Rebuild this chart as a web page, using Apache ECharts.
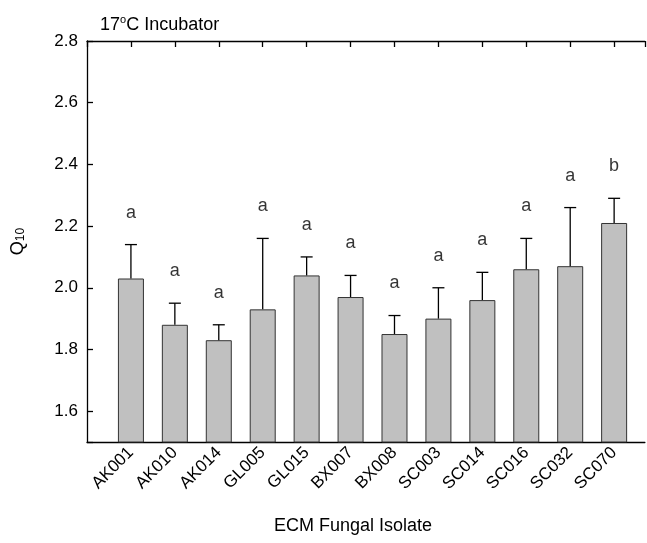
<!DOCTYPE html>
<html><head><meta charset="utf-8">
<script src="https://cdn.jsdelivr.net/npm/echarts@6/dist/echarts.min.js"></script>
<style>html,body{margin:0;padding:0;background:#fff}#c{width:647px;height:543px}</style>
</head><body><div id="c"></div>
<script>
const categories = ['AK001','AK010','AK014','GL005','GL015','BX007','BX008','SC003','SC014','SC016','SC032','SC070'];
const means = [2.03, 1.88, 1.83, 1.93, 2.04, 1.97, 1.85, 1.90, 1.96, 2.06, 2.07, 2.21];
const errorTops = [2.14, 1.95, 1.88, 2.16, 2.10, 2.04, 1.91, 2.00, 2.05, 2.16, 2.26, 2.29];
const letters = ['a','a','a','a','a','a','a','a','a','a','a','b'];

const FONT = '"Liberation Sans", Arial, Helvetica, sans-serif';
const chart = echarts.init(document.getElementById('c'), null, {renderer: 'canvas'});

const barData = categories.map((c, i) => [i + 1, means[i]]);
const errData = categories.map((c, i) => [i + 1, means[i], errorTops[i]]);
const letterData = categories.map((c, i) => ({value: [i + 1, errorTops[i]], name: letters[i]}));

const option = {
  animation: false,
  backgroundColor: '#fff',
  title: {
    text: '{n|17}{s|o}{n|C Incubator}',
    left: 95, top: 10,
    textStyle: {
      fontWeight: 'normal',
      rich: {
        n: {fontFamily: FONT, fontSize: 18, fontWeight: 'normal', color: '#000', lineHeight: 20},
        s: {fontFamily: FONT, fontSize: 11, fontWeight: 'normal', color: '#000', verticalAlign: 'bottom', lineHeight: 9, padding: [0, 0, 10, 0]}
      }
    }
  },
  grid: {left: 87, right: 0, top: 41, bottom: 101, containLabel: false},
  xAxis: [{
    type: 'value', min: 0, max: 12.7, interval: 1, position: 'bottom',
    name: 'ECM Fungal Isolate', nameLocation: 'middle', nameGap: 75,
    nameTextStyle: {fontFamily: FONT, fontSize: 18, color: '#000', padding: [0, 26, 0, 0]},
    axisLine: {show: true, onZero: false, lineStyle: {color: '#000', width: 1.3}},
    axisTick: {show: false},
    splitLine: {show: false},
    axisLabel: {
      rotate: 45, margin: 8, fontFamily: FONT, fontSize: 17, color: '#000',
      showMinLabel: true, showMaxLabel: true,
      formatter: v => (Number.isInteger(v) && v >= 1 && v <= categories.length) ? categories[v - 1] : ''
    }
  }, {
    type: 'value', min: 0, max: 12.7, interval: 1, position: 'top',
    axisLine: {show: true, onZero: false, lineStyle: {color: '#000', width: 1.3}},
    axisTick: {show: true, inside: true, length: 6, lineStyle: {color: '#000', width: 1.3}},
    axisLabel: {show: false},
    splitLine: {show: false}
  }],
  yAxis: {
    type: 'value', min: 1.5, max: 2.8, splitNumber: 6,
    name: '{q|Q}{s|10}', nameLocation: 'middle', nameRotate: 90, nameGap: 60,
    nameTextStyle: {
      rich: {
        q: {fontFamily: FONT, fontSize: 18, color: '#000'},
        s: {fontFamily: FONT, fontSize: 12, color: '#000', verticalAlign: 'bottom', padding: [6, 0, 0, 0]}
      }
    },
    axisLine: {show: true, onZero: false, lineStyle: {color: '#000', width: 1.3}},
    axisTick: {show: true, inside: true, length: 6, lineStyle: {color: '#000', width: 1.3}},
    splitLine: {show: false},
    axisLabel: {
      margin: 9, fontFamily: FONT, fontSize: 17, color: '#000',
      formatter: v => (Math.abs(v - 1.5) < 1e-6) ? '' : v.toFixed(1)
    }
  },
  series: [{
    type: 'bar', xAxisIndex: 0, data: barData, barWidth: 26,
    itemStyle: {color: '#c0c0c0', borderColor: '#333', borderWidth: 1}
  }, {
    type: 'custom', xAxisIndex: 0, data: errData, z: 5,
    renderItem: (params, api) => {
      const x = api.value(0);
      const base = api.coord([x, api.value(1)]);
      const top = api.coord([x, api.value(2)]);
      const style = {stroke: '#000', lineWidth: 1.3};
      return {type: 'group', children: [
        {type: 'line', shape: {x1: base[0], y1: base[1], x2: top[0], y2: top[1]}, style},
        {type: 'line', shape: {x1: top[0] - 6, y1: top[1], x2: top[0] + 6, y2: top[1]}, style}
      ]};
    }
  }, {
    type: 'scatter', xAxisIndex: 0, data: letterData, symbolSize: 0,
    label: {show: true, position: 'top', distance: 23, formatter: p => p.name,
      fontFamily: FONT, fontSize: 18, color: '#000'}
  }]
};
chart.setOption(option);
</script></body></html>
